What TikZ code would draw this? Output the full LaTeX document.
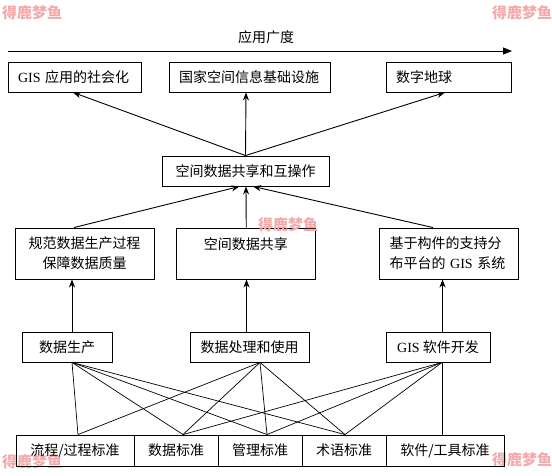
\documentclass[tikz,border=0pt]{standalone}
\usepackage{fontspec}
\setmainfont{Noto Sans CJK SC}
\newfontfamily\latf{Liberation Serif}
\usetikzlibrary{arrows.meta}
\definecolor{wmred}{RGB}{244,170,170}
\newcommand{\gis}{{\latf GIS}}
\begin{document}
\begin{tikzpicture}[x=1pt,y=-1pt,
  every node/.style={font=\fontsize{14}{20}\selectfont},
  box/.style={draw, line width=0.9pt, inner sep=0pt, align=center},
  lbox/.style={draw, line width=0.9pt, inner xsep=10pt, inner ysep=0pt, align=left},
  arr/.style={line width=0.9pt, -{Stealth[length=8pt,width=6pt,inset=2.5pt]}},
  link/.style={line width=0.7pt},
  wm/.style={font=\fontsize{15}{15}\selectfont\bfseries, text=wmred}]
\useasboundingbox (0,0) rectangle (552,476);
% watermarks
\node[wm] (w1) at (32,13) {得鹿梦鱼};
\node[wm] (w2) at (522,13) {得鹿梦鱼};
\node[wm] (w4) at (32,462) {得鹿梦鱼};
\node[wm] (w5) at (522,460) {得鹿梦鱼};
% title arrow
\node (title) at (266,37) {应用广度};
\coordinate (aL) at (8,51);
\coordinate (aR) at (512,51);
\draw[line width=0.9pt, -{Triangle[length=9pt,width=7pt]}] (aL) -- (aR);
% top row
\node[lbox, minimum width=133pt, minimum height=30pt, text width=113pt] (t1) at (74.5,77) {\gis\ 应用的社会化};
\node[lbox, minimum width=161pt, minimum height=30pt, text width=141pt] (t2) at (249.5,77) {国家空间信息基础设施};
\node[lbox, minimum width=125pt, minimum height=30pt, text width=105pt] (t3) at (448.5,77) {数字地球};
% middle
\node[box, minimum width=167pt, minimum height=30pt] (m) at (245.5,171) {空间数据共享和互操作};
% row 3
\node[box, minimum width=139pt, minimum height=51pt] (a) at (84.5,253.5) {规范数据生产过程\\保障数据质量};
\node[box, minimum width=139.5pt, minimum height=51pt] (b) at (245.75,253.5) {空间数据共享\\~};
\node[lbox, minimum width=138.5pt, minimum height=51pt, text width=118.5pt] (c) at (448.75,253.5) {基于构件的支持分\\布平台的 \gis\ 系统};
% row 4
\node[box, minimum width=90pt, minimum height=30pt] (p) at (67,347) {数据生产};
\node[box, minimum width=119pt, minimum height=30pt] (q) at (249.5,347) {数据处理和使用};
\node[box, minimum width=104pt, minimum height=30pt] (r) at (438,347) {\gis\ 软件开发};
% bottom row
\node[box, minimum width=118pt, minimum height=31pt] (s1) at (75,450.5) {流程/过程标准};
\node[box, minimum width=84pt, minimum height=31pt] (s2) at (176,450.5) {数据标准};
\node[box, minimum width=84pt, minimum height=31pt] (s3) at (260,450.5) {管理标准};
\node[box, minimum width=84pt, minimum height=31pt] (s4) at (344,450.5) {术语标准};
\node[box, minimum width=118pt, minimum height=31pt] (s5) at (445,450.5) {软件/工具标准};
\node[wm] (w3) at (288,225) {得鹿梦鱼};
% middle -> top
\draw[arr] (m.north) -- ([xshift=-1.5pt]t1.south);
\draw[arr] (m.north) -- ([xshift=-3.5pt]t2.south);
\draw[arr] (m.north) -- ([xshift=-3.5pt]t3.south);
% row3 -> middle
\draw[arr] ([xshift=-10.5pt]a.north) -- ([xshift=-6pt]m.south);
\draw[arr] ([xshift=0.5pt]b.north) -- ([xshift=0.5pt]m.south);
\draw[arr] ([xshift=-15.75pt]c.north) -- ([xshift=7.5pt]m.south);
% row4 -> row3
\draw[arr] ([xshift=5pt]p.north) -- ([xshift=5pt]p.north |- a.south);
\draw[arr] ([xshift=-3pt]q.north) -- ([xshift=-3pt]q.north |- b.south);
\draw[arr] ([xshift=4.5pt]r.north) -- ([xshift=4.5pt]r.north |- c.south);
% row4 -> bottom
\coordinate (pb) at ([xshift=5pt]p.south);
\coordinate (qb) at ([xshift=10.5pt]q.south);
\coordinate (rb) at ([xshift=4pt]r.south);
\coordinate (s1t) at ([xshift=3pt]s1.north);
\coordinate (s2t) at ([xshift=7pt]s2.north);
\coordinate (s3t) at ([xshift=7pt]s3.north);
\coordinate (s4t) at ([xshift=1pt]s4.north);
\draw[link] (pb) -- (s1t);
\draw[link] (pb) -- (s2t);
\draw[link] (pb) -- (s3t);
\draw[link] (pb) -- (s4t);
\draw[link] (qb) -- (s1t);
\draw[link] (qb) -- (s2t);
\draw[link] (qb) -- (s3t);
\draw[link] (qb) -- (s4t);
\draw[link] (rb) -- (s2t);
\draw[link] (rb) -- (s3t);
\draw[link] (rb) -- (s4t);
\draw[link] (rb) -- (rb |- s5.north);
\end{tikzpicture}
\end{document}
